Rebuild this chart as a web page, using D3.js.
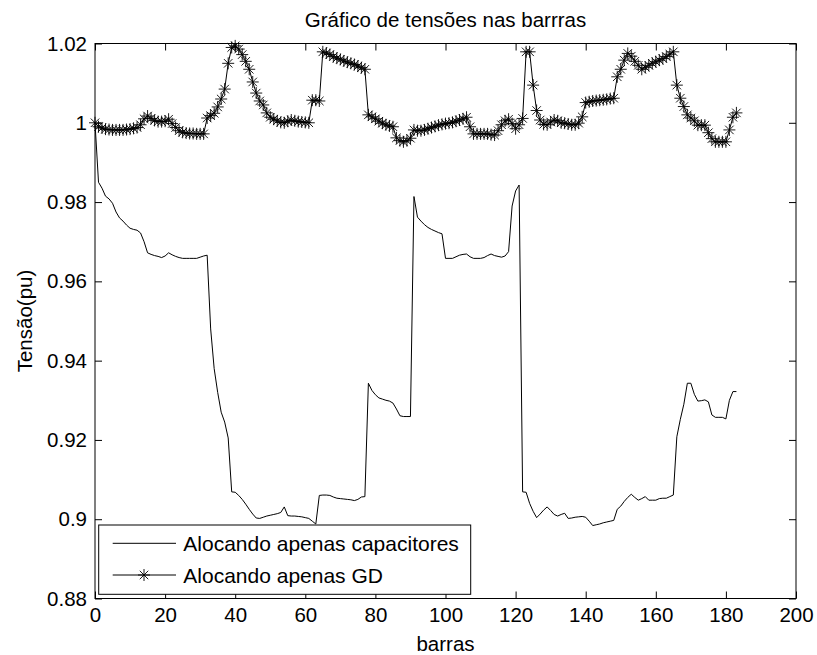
<!DOCTYPE html>
<html>
<head>
<meta charset="utf-8">
<script src="https://cdn.jsdelivr.net/npm/d3@7"></script>
<style>
  html, body { margin: 0; padding: 0; background: #fff; }
  svg { display: block; }
  text { font-family: "Liberation Sans", Arial, sans-serif; fill: #000; }
</style>
</head>
<body>
<svg id="chart" width="817" height="655"></svg>
<script>
// ---------------- data ----------------
const titleText = "Gráfico de tensões nas barrras";
const xLabel = "barras";
const yLabel = "Tensão(pu)";
const seriesNames = ["Alocando apenas capacitores", "Alocando apenas GD"];

const xTicks = [0, 20, 40, 60, 80, 100, 120, 140, 160, 180, 200];
const yTicks = [0.88, 0.90, 0.92, 0.94, 0.96, 0.98, 1.00, 1.02];

// bus index 0..183
const capacitores = [
  1.0000, 0.9850, 0.9835, 0.9815, 0.9808, 0.9797, 0.9775, 0.9760, 0.9752, 0.9742,
  0.9734, 0.9731, 0.9729, 0.9722, 0.9700, 0.9672, 0.9668, 0.9665, 0.9663, 0.9660,
  0.9664, 0.9672, 0.9667, 0.9663, 0.9660, 0.9658, 0.9658, 0.9658, 0.9658, 0.9658,
  0.9661, 0.9664, 0.9666, 0.9480, 0.9380, 0.9320, 0.9270, 0.9245, 0.9205, 0.9069,
  0.9068, 0.9060, 0.9050, 0.9038, 0.9025, 0.9013, 0.9003, 0.9002, 0.9005, 0.9008,
  0.9010, 0.9012, 0.9014, 0.9017, 0.9031, 0.9009, 0.9008, 0.9008, 0.9007, 0.9006,
  0.9004, 0.9002, 0.8995, 0.8988, 0.9060, 0.9061, 0.9061, 0.9060, 0.9056, 0.9053,
  0.9052, 0.9051, 0.9050, 0.9049, 0.9047, 0.9050, 0.9056, 0.9057, 0.9343, 0.9325,
  0.9314, 0.9306, 0.9303, 0.9300, 0.9298, 0.9293, 0.9278, 0.9261, 0.9259, 0.9259,
  0.9259, 0.9814, 0.9762, 0.9752, 0.9743, 0.9736, 0.9731, 0.9727, 0.9723, 0.9720,
  0.9658, 0.9658, 0.9658, 0.9662, 0.9666, 0.9668, 0.9669, 0.9662, 0.9658, 0.9658,
  0.9658, 0.9660, 0.9665, 0.9669, 0.9665, 0.9663, 0.9661, 0.9664, 0.9675, 0.9790,
  0.9828, 0.9843, 0.9069, 0.9068, 0.9040, 0.9020, 0.9004, 0.9013, 0.9023, 0.9031,
  0.9022, 0.9012, 0.9008, 0.9012, 0.9015, 0.9002, 0.9003, 0.9005, 0.9006, 0.9007,
  0.9005, 0.8995, 0.8984, 0.8986, 0.8988, 0.8991, 0.8993, 0.8995, 0.8997, 0.9025,
  0.9033, 0.9045, 0.9055, 0.9063, 0.9055, 0.9048, 0.9052, 0.9057, 0.9048, 0.9048,
  0.9048, 0.9052, 0.9053, 0.9053, 0.9057, 0.9061, 0.9208, 0.9252, 0.9290, 0.9343,
  0.9343, 0.9315, 0.9298, 0.9299, 0.9301, 0.9296, 0.9263, 0.9257, 0.9257, 0.9257,
  0.9253, 0.9300, 0.9322, 0.9322
];

const gd = [
  1.0000, 0.9990, 0.9987, 0.9984, 0.9983, 0.9982, 0.9982, 0.9982, 0.9982, 0.9983,
  0.9984, 0.9986, 0.9988, 0.9995, 1.0010, 1.0017, 1.0011, 1.0006, 1.0003, 1.0003,
  1.0004, 1.0009, 0.9998, 0.9988, 0.9980, 0.9976, 0.9974, 0.9973, 0.9973, 0.9972,
  0.9972, 0.9972, 1.0012, 1.0018, 1.0024, 1.0040, 1.0060, 1.0085, 1.0150, 1.0190,
  1.0194, 1.0186, 1.0172, 1.0155, 1.0135, 1.0103, 1.0075, 1.0055, 1.0045, 1.0025,
  1.0014, 1.0009, 1.0005, 1.0001, 1.0000, 1.0004, 1.0007, 1.0005, 1.0003, 1.0002,
  1.0001, 1.0000, 1.0057, 1.0057, 1.0055, 1.0179, 1.0176, 1.0172, 1.0167, 1.0163,
  1.0160, 1.0156, 1.0153, 1.0150, 1.0147, 1.0143, 1.0139, 1.0135, 1.0020, 1.0015,
  1.0010, 1.0004, 0.9999, 0.9995, 0.9992, 0.9990, 0.9962, 0.9955, 0.9952, 0.9955,
  0.9961, 0.9982, 0.9980, 0.9980, 0.9982, 0.9985, 0.9988, 0.9991, 0.9994, 0.9996,
  0.9998, 0.9999, 1.0001, 1.0004, 1.0007, 1.0010, 1.0014, 0.9990, 0.9972, 0.9972,
  0.9972, 0.9972, 0.9972, 0.9970, 0.9969, 0.9980, 0.9995, 1.0005, 1.0009, 0.9998,
  0.9985, 0.9995, 1.0011, 1.0179, 1.0179, 1.0095, 1.0031, 1.0007, 0.9996, 0.9995,
  1.0002, 1.0007, 1.0005, 1.0000, 0.9999, 0.9997, 0.9995, 0.9995, 0.9999, 1.0015,
  1.0051, 1.0053, 1.0055, 1.0056, 1.0057, 1.0058, 1.0059, 1.0061, 1.0062, 1.0116,
  1.0135, 1.0158, 1.0175, 1.0168, 1.0155, 1.0145, 1.0135, 1.0140, 1.0145, 1.0150,
  1.0154, 1.0158, 1.0162, 1.0167, 1.0173, 1.0179, 1.0095, 1.0062, 1.0041, 1.0020,
  1.0012, 1.0005, 0.9994, 0.9994, 0.9994, 0.9975, 0.9960, 0.9952, 0.9952, 0.9952,
  0.9952, 0.9982, 1.0014, 1.0025
];

// ---------------- layout ----------------
const W = 817, H = 655;
const margin = { left: 95, right: 21, top: 43.5, bottom: 56.5 };
const FS = 20.5;

const svg = d3.select("#chart");
const x = d3.scaleLinear().domain([0, 200]).range([margin.left, W - margin.right]);
const y = d3.scaleLinear().domain([0.88, 1.02]).range([H - margin.bottom, margin.top]);

const fmt = d => String(+d.toFixed(2));
const TL = 7;

// axes
const gB = svg.append("g").attr("transform", `translate(0,${y.range()[0]})`)
  .call(d3.axisBottom(x).tickValues(xTicks).tickSizeInner(-TL).tickSizeOuter(0).tickPadding(9).tickFormat(d3.format("d")));
const gT = svg.append("g").attr("transform", `translate(0,${y.range()[1]})`)
  .call(d3.axisTop(x).tickValues(xTicks).tickSizeInner(-TL).tickSizeOuter(0).tickFormat(""));
const gL = svg.append("g").attr("transform", `translate(${x.range()[0]},0)`)
  .call(d3.axisLeft(y).tickValues(yTicks).tickSizeInner(-TL).tickSizeOuter(0).tickPadding(8).tickFormat(fmt));
const gR = svg.append("g").attr("transform", `translate(${x.range()[1]},0)`)
  .call(d3.axisRight(y).tickValues(yTicks).tickSizeInner(-TL).tickSizeOuter(0).tickFormat(""));

[gB, gT, gL, gR].forEach(g => {
  g.select(".domain").remove();
  g.selectAll(".tick line").attr("stroke", "#000").attr("stroke-width", 1);
  g.selectAll("text").attr("font-size", FS).attr("font-family", "Liberation Sans, Arial, sans-serif").attr("fill", "#000");
});

// box
svg.append("rect")
  .attr("x", x.range()[0]).attr("y", y.range()[1])
  .attr("width", x.range()[1] - x.range()[0])
  .attr("height", y.range()[0] - y.range()[1])
  .attr("fill", "none").attr("stroke", "#000").attr("stroke-width", 1);

// lines
const line = d3.line().x((d, i) => x(i)).y(d => y(d));
svg.append("path").datum(capacitores).attr("d", line)
  .attr("fill", "none").attr("stroke", "#000").attr("stroke-width", 1);
svg.append("path").datum(gd).attr("d", line)
  .attr("fill", "none").attr("stroke", "#000").attr("stroke-width", 1);

// asterisk markers
const R = 6, D = R * Math.SQRT1_2;
const starPath = `M${-R},0L${R},0M0,${-R}L0,${R}M${-D},${-D}L${D},${D}M${-D},${D}L${D},${-D}`;
svg.append("g").selectAll("path").data(gd).join("path")
  .attr("transform", (d, i) => `translate(${x(i)},${y(d)})`)
  .attr("d", starPath)
  .attr("fill", "none").attr("stroke", "#000").attr("stroke-width", 0.9);

// title & labels
svg.append("text").attr("x", (x.range()[0] + x.range()[1]) / 2).attr("y", 27)
  .attr("text-anchor", "middle").attr("font-size", FS).text(titleText);
svg.append("text").attr("x", (x.range()[0] + x.range()[1]) / 2).attr("y", 651)
  .attr("text-anchor", "middle").attr("font-size", FS).text(xLabel);
svg.append("text").attr("transform", `translate(32,${(y.range()[0] + y.range()[1]) / 2}) rotate(-90)`)
  .attr("text-anchor", "middle").attr("font-size", FS).text(yLabel);

// legend
const lg = svg.append("g");
lg.append("rect").attr("x", 98.7).attr("y", 525).attr("width", 372).attr("height", 69.3)
  .attr("fill", "#fff").attr("stroke", "#000").attr("stroke-width", 1);
const rows = [543.3, 575];
rows.forEach((ry, k) => {
  lg.append("line").attr("x1", 112.7).attr("x2", 176).attr("y1", ry).attr("y2", ry)
    .attr("stroke", "#000").attr("stroke-width", 1);
  if (k === 1) {
    lg.append("path").attr("transform", `translate(144,${ry})`).attr("d", starPath)
      .attr("fill", "none").attr("stroke", "#000").attr("stroke-width", 0.9);
  }
  lg.append("text").attr("x", 183.3).attr("y", ry + 8).attr("font-size", 21).text(seriesNames[k]);
});
</script>
</body>
</html>
